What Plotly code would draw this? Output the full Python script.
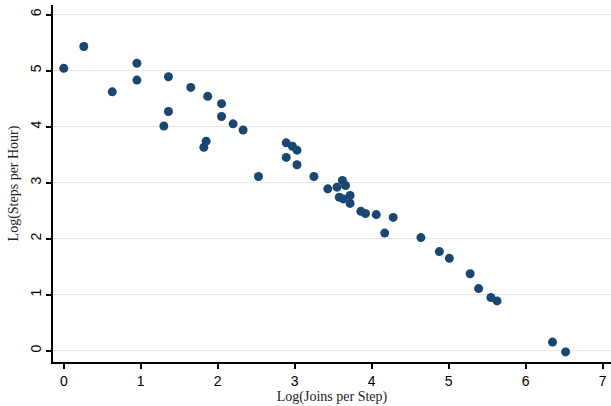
import plotly.graph_objects as go

log_joins_per_step = [
    0.00, 0.26, 0.63, 0.95, 0.95, 1.36, 1.36, 1.30, 1.65, 1.87,
    2.05, 2.05, 2.20, 2.33, 1.85, 1.82, 2.53,
    2.89, 2.97, 3.03, 2.89, 3.03, 3.25, 3.43, 3.55, 3.62, 3.66,
    3.58, 3.63, 3.72, 3.72, 3.86, 3.92, 4.06, 4.28, 4.17, 4.64,
    4.88, 5.01, 5.28, 5.39, 5.55, 5.63, 6.35, 6.52,
]
log_steps_per_hour = [
    5.04, 5.43, 4.62, 5.13, 4.83, 4.89, 4.27, 4.01, 4.70, 4.54,
    4.41, 4.18, 4.05, 3.94, 3.74, 3.63, 3.11,
    3.71, 3.65, 3.58, 3.45, 3.32, 3.11, 2.89, 2.92, 3.04, 2.95,
    2.74, 2.71, 2.77, 2.63, 2.49, 2.45, 2.43, 2.38, 2.10, 2.02,
    1.77, 1.65, 1.375, 1.11, 0.95, 0.89, 0.155, -0.02,
]
x_ticks = [0, 1, 2, 3, 4, 5, 6, 7]
y_ticks = [0, 1, 2, 3, 4, 5, 6]

fig = go.Figure()
fig.add_trace(go.Scatter(
    x=log_joins_per_step, y=log_steps_per_hour, mode="markers",
    marker=dict(color="#1a476f", size=9, line=dict(width=0)),
    showlegend=False,
))

fig.update_layout(
    width=611, height=406,
    margin=dict(l=53, r=0, t=5, b=44, autoexpand=False),
    paper_bgcolor="white", plot_bgcolor="white",
)
fig.update_xaxes(
    range=[-0.14, 7.11], tickvals=x_ticks, showgrid=False, zeroline=False,
    automargin=False,
    showline=True, linecolor="black", linewidth=1.5,
    ticks="outside", ticklen=5, tickwidth=1.5, tickcolor="black",
    tickfont=dict(family="Liberation Sans", size=14, color="black"),
    title=dict(text="Log(Joins per Step)", standoff=2,
               font=dict(family="Liberation Serif", size=14, color="#222")),
)
fig.update_yaxes(
    range=[-0.2, 6.17], tickvals=y_ticks, showgrid=True, gridcolor="#e8e8e8",
    gridwidth=1.2, zeroline=False, automargin=False,
    showline=True, linecolor="black", linewidth=1.5,
    ticks="outside", ticklen=5, tickwidth=1.5, tickcolor="black",
    tickangle=-90, ticklabelstandoff=0,
    tickfont=dict(family="Liberation Sans", size=14, color="black"),
    title=dict(text="Log(Steps per Hour)", standoff=6,
               font=dict(family="Liberation Serif", size=14, color="#222")),
)

fig.write_html(
    "out.html",
    config={"displayModeBar": False},
    post_script="document.body.style.margin='0';document.body.style.overflow='hidden';",
)
